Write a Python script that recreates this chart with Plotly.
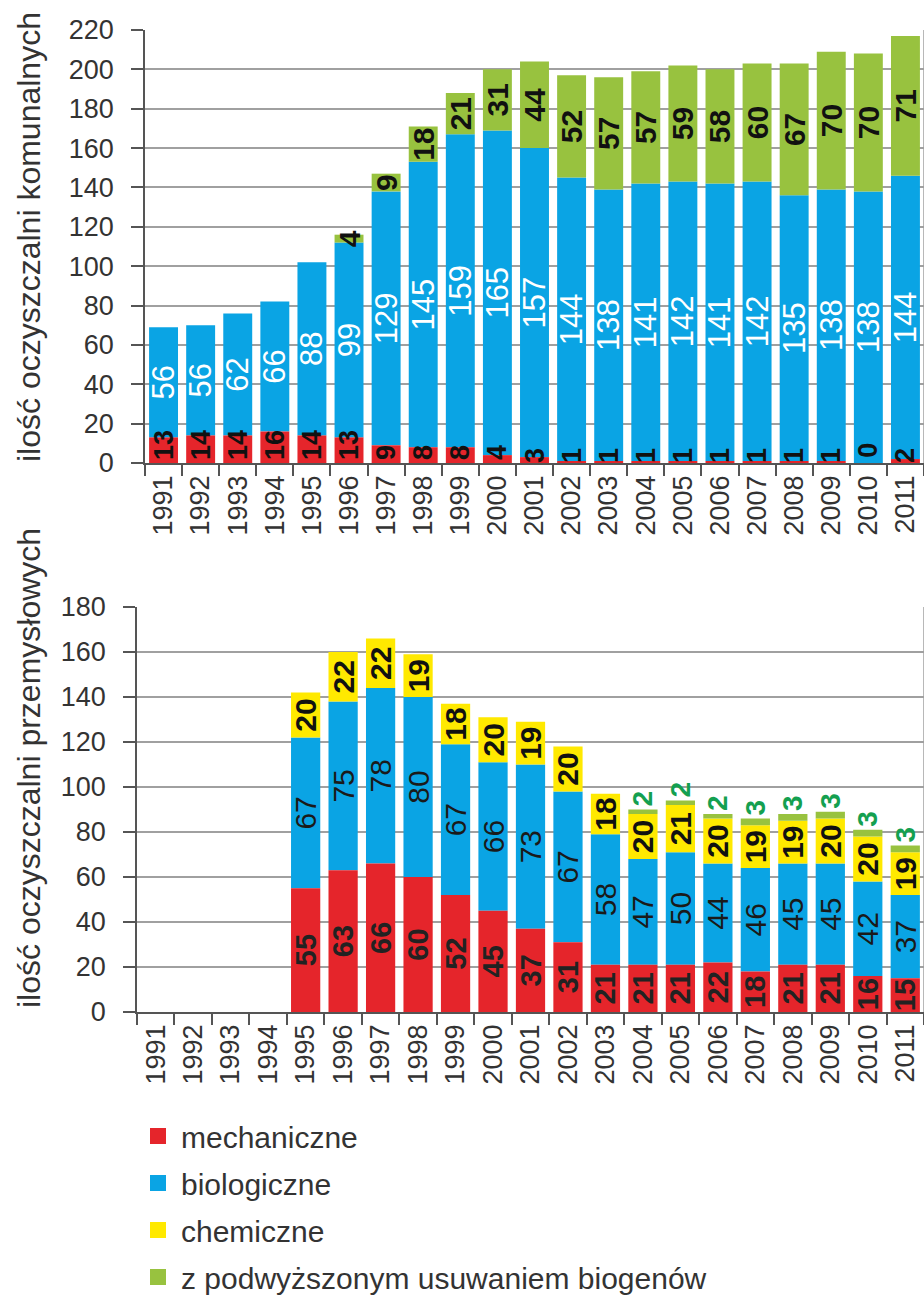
import plotly.graph_objects as go

years = [str(y) for y in range(1991, 2012)]

# komunalne
mech_kom = [13, 14, 14, 16, 14, 13, 9, 8, 8, 4, 3, 1, 1, 1, 1, 1, 1, 1, 1, 0, 2]
bio_kom = [56, 56, 62, 66, 88, 99, 129, 145, 159, 165, 157, 144, 138, 141, 142, 141, 142, 135, 138, 138, 144]
biog_kom = [None, None, None, None, None, 4, 9, 18, 21, 31, 44, 52, 57, 57, 59, 58, 60, 67, 70, 70, 71]

# przemysłowe
mech_prz = [None, None, None, None, 55, 63, 66, 60, 52, 45, 37, 31, 21, 21, 21, 22, 18, 21, 21, 16, 15]
bio_prz = [None, None, None, None, 67, 75, 78, 80, 67, 66, 73, 67, 58, 47, 50, 44, 46, 45, 45, 42, 37]
chem_prz = [None, None, None, None, 20, 22, 22, 19, 18, 20, 19, 20, 18, 20, 21, 20, 19, 19, 20, 20, 19]
biog_prz = [None, None, None, None, None, None, None, None, None, None, None, None, None, 2, 2, 2, 3, 3, 3, 3, 3]

yticks_kom = list(range(0, 221, 20))
yticks_prz = list(range(0, 181, 20))

names = ["mechaniczne", "biologiczne", "chemiczne", "z podwyższonym usuwaniem biogenów"]

RED = "#e5252b"
BLUE = "#0aa4e4"
YELLOW = "#ffe900"
GREEN = "#98c23f"
GREEN_TXT = "#14a050"

LBL_FONT = "Liberation Sans, Arial, sans-serif"
AX_FONT = "Liberation Sans, Arial, sans-serif"


def txt(vals):
    return [None if v is None else str(v) for v in vals]


def cumsum(*series):
    out = []
    for i in range(len(series[0])):
        out.append(sum((s[i] or 0) for s in series))
    return out


fig = go.Figure()


def add_bar(vals, base, color, xa, ya, tcolor, anchor="middle", pos="inside",
            bold=True, size=30):
    fig.add_trace(go.Bar(
        x=years, y=vals, base=base, marker=dict(color=color, line=dict(width=0)),
        xaxis=xa, yaxis=ya, showlegend=False,
        text=txt(vals), textposition=pos, textangle=-90,
        insidetextanchor=anchor, constraintext="none", cliponaxis=False,
        textfont=dict(family=LBL_FONT, size=size, color=tcolor,
                      weight="bold" if bold else "normal"),
        hoverinfo="skip",
    ))


zeros = [0] * len(years)

# top chart (red drawn last so its labels stay on top)
add_bar(bio_kom, mech_kom, BLUE, "x", "y", "white", bold=False, size=31)
add_bar(biog_kom, cumsum(mech_kom, bio_kom), GREEN, "x", "y", "#111111")
add_bar(mech_kom, zeros, RED, "x", "y", "#111111", anchor="start", size=27)

# bottom chart
add_bar(bio_prz, cumsum(mech_prz), BLUE, "x2", "y2", "#1a1a1a", bold=False)
add_bar(chem_prz, cumsum(mech_prz, bio_prz), YELLOW, "x2", "y2", "#111111")
add_bar(biog_prz, cumsum(mech_prz, bio_prz, chem_prz), GREEN, "x2", "y2", GREEN_TXT,
        pos="outside", size=28)
add_bar(mech_prz, zeros, RED, "x2", "y2", "#222222", size=29)

# legend entries
for nm, col in zip(names, [RED, BLUE, YELLOW, GREEN]):
    fig.add_trace(go.Scatter(
        x=[None], y=[None], mode="markers", name=nm, legendgroup=nm,
        marker=dict(symbol="square", size=16, color=col),
        xaxis="x2", yaxis="y2", showlegend=True,
    ))

# labels for zero-height bars (plotly does not print text on empty bars)
zero_labels = [
    dict(x=i, y=0, xref="x", yref="y", text=str(v), textangle=-90,
         showarrow=False, yanchor="bottom", yshift=3,
         font=dict(family=LBL_FONT, size=27, color="#111111", weight="bold"))
    for i, v in enumerate(mech_kom) if v == 0
]

H = 1297.0
W = 924.0

xcommon = dict(
    type="category", tickson="boundaries", ticks="outside", ticklen=11,
    tickwidth=1.5, tickcolor="#555555", showline=True, linecolor="#555555",
    linewidth=1.5, tickangle=-90, showgrid=False, zeroline=False,
    tickfont=dict(family=AX_FONT, size=27, color="#333333"), fixedrange=True,
    categoryorder="array", categoryarray=years, range=[-0.5, len(years) - 0.5],
)
ycommon = dict(
    ticks="outside", ticklen=12, tickwidth=1.5, tickcolor="#555555",
    showline=True, linecolor="#555555", linewidth=1.5,
    showgrid=True, gridcolor="#a0a0a0", gridwidth=1.5, zeroline=False,
    tickfont=dict(family=AX_FONT, size=27, color="#333333"),
    ticklabelstandoff=12, fixedrange=True,
)

fig.update_layout(
    width=924, height=1297,
    margin=dict(l=0, r=0, t=0, b=0, autoexpand=False),
    paper_bgcolor="white", plot_bgcolor="white",
    barmode="overlay", bargap=0.22,
    xaxis=dict(xcommon, domain=[145 / W, 1.0], anchor="y"),
    yaxis=dict(ycommon, domain=[(H - 463) / H, (H - 30) / H], range=[0, 220],
               tickvals=yticks_kom, anchor="x"),
    xaxis2=dict(xcommon, domain=[137 / W, 1.0], anchor="y2"),
    yaxis2=dict(ycommon, domain=[(H - 1012) / H, (H - 607) / H], range=[0, 180],
                tickvals=yticks_prz, anchor="x2"),
    legend=dict(
        x=135 / W, y=(H - 1110) / H, xanchor="left", yanchor="top",
        traceorder="grouped", tracegroupgap=5, itemsizing="trace", itemwidth=36,
        font=dict(family=AX_FONT, size=30, color="#333333"),
        bgcolor="rgba(0,0,0,0)",
    ),
    showlegend=True,
    annotations=[
        dict(text="ilość oczyszczalni komunalnych", xref="paper", yref="paper",
             x=29 / W, y=(H - 237) / H, textangle=-90, showarrow=False,
             font=dict(family=AX_FONT, size=32, color="#333333"),
             xanchor="center", yanchor="middle"),
        dict(text="ilość oczyszczalni przemysłowych", xref="paper", yref="paper",
             x=29 / W, y=(H - 768) / H, textangle=-90, showarrow=False,
             font=dict(family=AX_FONT, size=32, color="#333333"),
             xanchor="center", yanchor="middle"),
    ] + zero_labels,
    shapes=[
        dict(type="line", xref="x domain", yref="y domain", x0=1, x1=1, y0=0, y1=1,
             line=dict(color="#a0a0a0", width=1.5)),
        dict(type="line", xref="x2 domain", yref="y2 domain", x0=1, x1=1, y0=0, y1=1,
             line=dict(color="#a0a0a0", width=1.5)),
    ],
)

fig.write_html(
    "out.html",
    config={"displayModeBar": False},
    post_script="document.body.style.margin='0';document.body.style.overflow='hidden';",
)
